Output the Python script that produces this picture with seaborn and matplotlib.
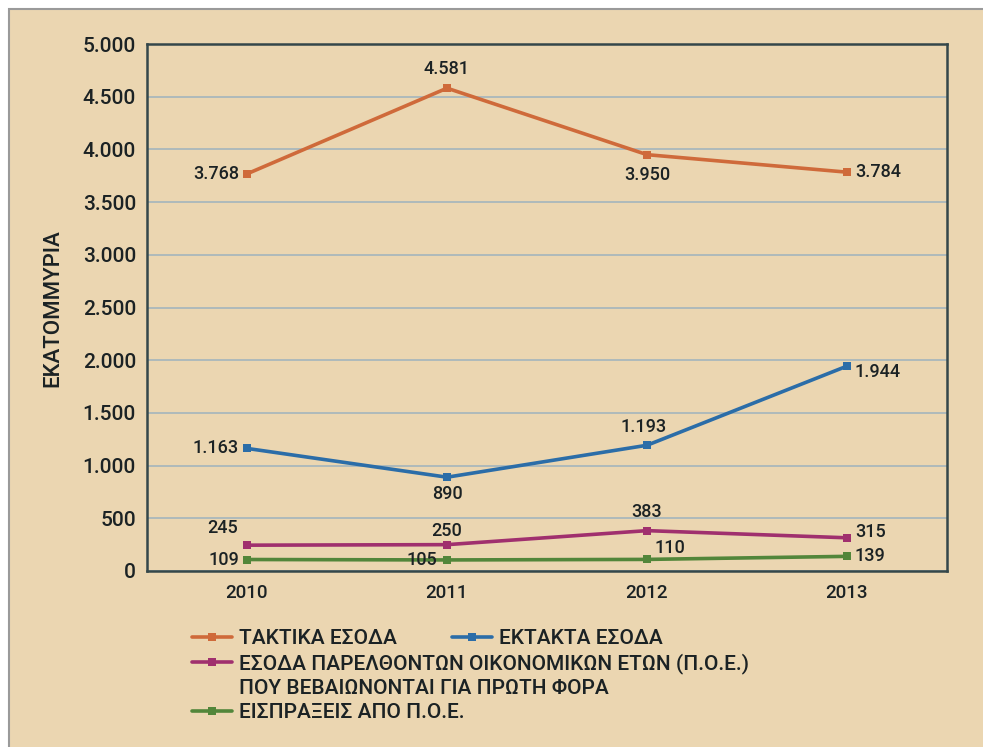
import pandas as pd
import seaborn as sns
import matplotlib.pyplot as plt
from matplotlib.lines import Line2D
from matplotlib.patches import Rectangle
from matplotlib.ticker import FuncFormatter

# data (millions)
years = [2010, 2011, 2012, 2013]
taktika = [3768, 4581, 3950, 3784]
ektakta = [1163, 890, 1193, 1944]
poe_first = [245, 250, 383, 315]
poe_receipts = [109, 105, 110, 139]
names = ["ΤΑΚΤΙΚΑ ΕΣΟΔΑ", "ΕΚΤΑΚΤΑ ΕΣΟΔΑ",
         "ΕΣΟΔΑ ΠΑΡΕΛΘΟΝΤΩΝ ΟΙΚΟΝΟΜΙΚΩΝ ΕΤΩΝ (Π.Ο.Ε.)",
         "ΕΙΣΠΡΑΞΕΙΣ ΑΠΟ Π.Ο.Ε."]
name_line2 = "ΠΟΥ ΒΕΒΑΙΩΝΟΝΤΑΙ ΓΙΑ ΠΡΩΤΗ ΦΟΡΑ"
ylabel = "ΕΚΑΤΟΜΜΥΡΙΑ"

colors = ["#CF6A3A", "#2B6DA8", "#A0306E", "#52863A"]
BG = "#EBD6B1"
DARK = "#34474A"
TXT = "#1b2224"

sns.set_style("white")
plt.rcParams['font.family'] = ['Roboto', 'DejaVu Sans']
plt.rcParams['font.weight'] = 'medium'

df = pd.DataFrame({
    "year": years * 4,
    "value": taktika + ektakta + poe_first + poe_receipts,
    "series": [n for n in names for _ in years],
})

fig = plt.figure(figsize=(9.83, 7.47), dpi=100, facecolor="white")
fig.patches.append(Rectangle((8.5 / 983, -0.05), 1.1, 1 - 8.5 / 747 + 0.05,
                             transform=fig.transFigure, facecolor=BG,
                             edgecolor="#9a9a9a", lw=1.5, zorder=-10))
ax = fig.add_axes([147 / 983, 1 - 571 / 747, 800 / 983, 527 / 747])
ax.set_facecolor(BG)

sns.lineplot(data=df, x="year", y="value", hue="series", hue_order=names,
             palette=colors, marker="s", markersize=6, markeredgewidth=0,
             linewidth=2.6, legend=False, ax=ax)


def gr(v, pos=None):
    return f"{v:,.0f}".replace(",", ".")


# label placement per point: (dx px, dy px, ha, va)
place = [
    [(-8, 0, "right", "center"), (0, 10, "center", "bottom"),
     (0, -11, "center", "top"), (8, 0, "left", "center")],
    [(-8, 0, "right", "center"), (0, -8, "center", "top"),
     (-3, 9, "center", "bottom"), (8, -6, "left", "center")],
    [(-9, 8, "right", "bottom"), (0, 5, "center", "bottom"),
     (0, 10, "center", "bottom"), (8, 6, "left", "center")],
    [(-8, 0, "right", "center"), (-10, 0, "right", "center"),
     (8, 11, "left", "center"), (8, 0, "left", "center")],
]
for vals, pl in zip([taktika, ektakta, poe_first, poe_receipts], place):
    for x, v, (dx, dy, ha, va) in zip(years, vals, pl):
        ax.annotate(gr(v), (x, v), xytext=(dx * 0.72, dy * 0.72),
                    textcoords="offset points", ha=ha, va=va,
                    fontsize=13, color=TXT)

ax.set_xlim(2009.5, 2013.5)
ax.set_ylim(0, 5000)
ax.set_yticks(range(0, 5001, 500))
ax.yaxis.set_major_formatter(FuncFormatter(gr))
ax.set_xticks(years)
ax.set_xticklabels([str(y) for y in years])
ax.set_xticks([2010.5, 2011.5, 2012.5], minor=True)
ax.tick_params(axis="x", which="major", length=0, pad=9, labelsize=13.5,
               labelcolor=TXT)
ax.tick_params(axis="x", which="minor", length=5, width=1.5, color=DARK,
               direction="out")
ax.tick_params(axis="y", length=5, width=1.5, color=DARK, direction="out",
               pad=3, labelsize=15, labelcolor=TXT)
ax.yaxis.grid(True, color="#A9B8BB", lw=1.3)
ax.set_axisbelow(True)
for s in ax.spines.values():
    s.set_visible(True)
    s.set_color(DARK)
    s.set_linewidth(1.8)
ax.set_xlabel("")
ax.set_ylabel("")
fig.text(53 / 983, 1 - 308 / 747, ylabel, rotation=90, ha="center",
         va="center", fontsize=16, color=TXT)


def handle(c):
    return Line2D([], [], color=c, lw=2.6, marker="s", markersize=6,
                  markeredgewidth=0)


leg_kw = dict(frameon=False, fontsize=15, handlelength=1.9,
              handletextpad=0.35, borderpad=0, borderaxespad=0,
              labelcolor=TXT)
fig.legend([handle(colors[0])], [names[0]], loc="center left",
           bbox_to_anchor=(192 / 983, 1 - 639 / 747), **leg_kw)
fig.legend([handle(colors[1])], [names[1]], loc="center left",
           bbox_to_anchor=(452 / 983, 1 - 639 / 747), **leg_kw)
fig.legend([handle(colors[2]), Line2D([], [], color="none"), handle(colors[3])],
           [names[2], name_line2, names[3]], loc="upper left",
           bbox_to_anchor=(192 / 983, 1 - 653 / 747), labelspacing=0.25,
           **leg_kw)

fig.savefig("out.png", dpi=100, facecolor="white")
